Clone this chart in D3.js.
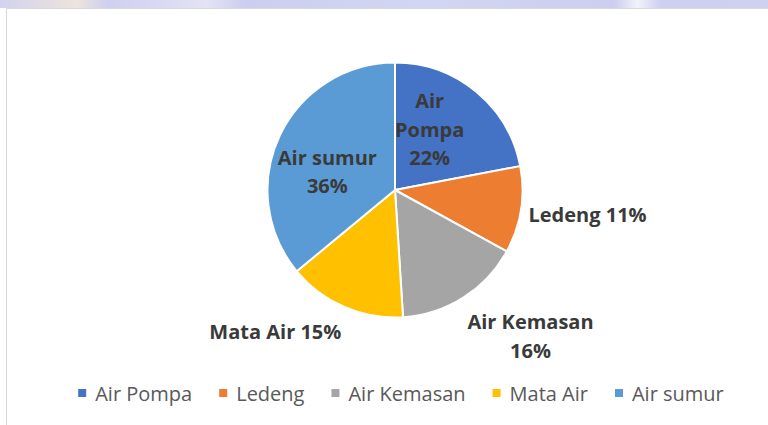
<!DOCTYPE html>
<html>
<head>
<meta charset="utf-8">
<script src="https://cdn.jsdelivr.net/npm/d3@7"></script>
<style>
  body { margin: 0; background: #fff; }
  svg { display: block; }
</style>
</head>
<body>
<div id="chart"></div>
<script>
// data
const categories = ["Air Pompa", "Ledeng", "Air Kemasan", "Mata Air", "Air sumur"];
const shares = [22, 11, 16, 15, 36];
const colors = ["#4472C4", "#ED7D31", "#A5A5A5", "#FFC000", "#5B9BD5"];

const width = 768, height = 425;
const cx = 395, cy = 190, radius = 127.5;

const data = categories.map((c, i) => ({ name: c, value: shares[i], color: colors[i] }));

const svg = d3.select("#chart").append("svg")
    .attr("width", width).attr("height", height)
    .style("font-family", "'Open Sans', sans-serif");

// faded strip of the page behind the chart (top edge)
const defs = svg.append("defs");
const grad = defs.append("linearGradient").attr("id", "strip");
[[0, "#d3d2f0"], [0.1, "#ece4dc"], [0.14, "#cfcff1"], [0.27, "#e4e2f4"], [0.32, "#cccdf0"],
 [0.55, "#d3d6f2"], [0.8, "#cdcdf0"], [0.83, "#f2f2fb"], [0.86, "#cfcff1"], [1, "#d0d0f1"]].forEach(s => {
    grad.append("stop").attr("offset", s[0]).attr("stop-color", s[1]);
});
svg.append("rect").attr("x", 0).attr("y", 0).attr("width", width).attr("height", 8).attr("fill", "url(#strip)");

// chart frame
svg.append("path")
    .attr("d", `M6.5,${height}V8.5H${width}`)
    .attr("fill", "none").attr("stroke", "#d9d9d9");

const pie = d3.pie().value(d => d.value).sort(null);
const arcs = pie(data);
const arc = d3.arc().innerRadius(0).outerRadius(radius);

const g = svg.append("g").attr("transform", `translate(${cx},${cy})`);

g.selectAll("path.slice")
    .data(arcs)
    .join("path")
    .attr("class", "slice")
    .attr("d", arc)
    .attr("fill", d => d.data.color)
    .attr("stroke", "#fff")
    .attr("stroke-width", 2)
    .attr("stroke-linejoin", "round");

// data labels
const lineH = 28.5;
const labels = g.append("g")
    .attr("font-size", 20)
    .attr("font-weight", 700)
    .attr("fill", "#3a3a3a");

arcs.forEach(a => {
    const inside = a.data.value >= 20;
    const maxW = inside ? 101 : 140;
    const words = (a.data.name + " " + a.data.value + "%").split(" ");

    const lg = labels.append("g");
    const text = lg.append("text").attr("text-anchor", "middle");

    // greedy wrap of the label
    let lines = [], cur = "";
    words.forEach(w => {
        const tryLine = cur ? cur + " " + w : w;
        text.text(tryLine);
        if (cur && text.node().getComputedTextLength() > maxW) {
            lines.push(cur);
            cur = w;
        } else cur = tryLine;
    });
    lines.push(cur);
    text.text(null);
    lines.forEach((l, i) => text.append("tspan").attr("x", 0).attr("y", i * lineH).text(l));

    const bb = text.node().getBBox();
    const mid = (a.startAngle + a.endAngle) / 2;
    const s = Math.sin(mid), c = Math.cos(mid);
    let tx, ty;
    if (inside) {
        const ang = mid - 10 * Math.PI / 180;
        const px = Math.sin(ang) * radius * 0.55, py = -Math.cos(ang) * radius * 0.55;
        tx = px - (bb.x + bb.width / 2);
        ty = py - (bb.y + bb.height / 2);
    } else {
        const R = radius * 1.06;
        const px = s * R, py = -c * R;
        let left;
        if (s > 0.3) left = px;
        else if (s < -0.3) left = px - bb.width;
        else left = px - bb.width / 2;
        const k = Math.max(-1, Math.min(1, -c * 1.5));
        const centerY = py + k * bb.height / 2 + (c < -0.3 ? 4 : 0);
        tx = left - bb.x;
        ty = centerY - (bb.y + bb.height / 2);
    }
    lg.attr("transform", `translate(${tx},${ty})`);
});

// legend
const legend = svg.append("g")
    .attr("font-size", 20)
    .attr("fill", "#595959");

const box = 8, gapText = 9, gapItem = 27;
let xPos = 0;
data.forEach(d => {
    const it = legend.append("g");
    it.append("rect").attr("x", 0).attr("y", -12).attr("width", box).attr("height", box).attr("fill", d.color);
    const t = it.append("text").attr("x", box + gapText).attr("y", 0).text(d.name);
    const w = box + gapText + t.node().getComputedTextLength();
    it.attr("transform", `translate(${xPos},0)`);
    xPos += w + gapItem;
});
const legendW = xPos - gapItem;
legend.attr("transform", `translate(${401 - legendW / 2},401)`);
</script>
</body>
</html>
